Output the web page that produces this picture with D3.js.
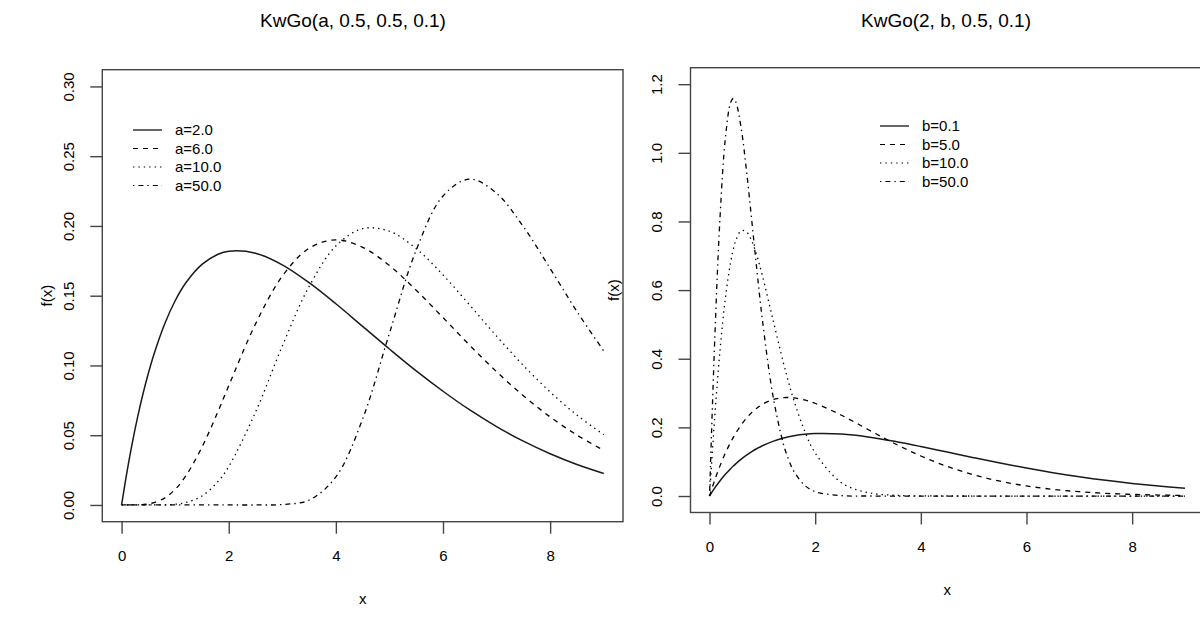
<!DOCTYPE html>
<html>
<head>
<meta charset="utf-8">
<script src="https://cdn.jsdelivr.net/npm/d3@7"></script>
<style>
  body { margin: 0; background: #fff; }
  svg { display: block; }
  text { font-family: "Liberation Sans", Arial, Helvetica, sans-serif; fill: #000; }
</style>
</head>
<body>
<svg width="1200" height="617"></svg>
<script>
// values
var xLeft = [0, 0.1, 0.2, 0.3, 0.4, 0.5, 0.6, 0.8, 1.0, 1.2, 1.5, 1.8, 2.0, 2.5, 3.0, 3.5, 4.0, 4.5, 5.0, 5.5, 6.0, 6.5, 7.0, 7.5, 8.0, 8.5, 9.0];
var fA2  = [0, 0.0236, 0.0445, 0.0631, 0.0797, 0.0944, 0.1075, 0.1294, 0.1464, 0.1593, 0.1725, 0.1797, 0.1819, 0.1805, 0.1721, 0.1593, 0.1442, 0.1280, 0.1118, 0.0961, 0.0815, 0.0681, 0.0562, 0.0457, 0.0367, 0.0290, 0.0226];
var fA6  = [0, 0, 0, 0.0001, 0.0003, 0.0007, 0.0016, 0.0049, 0.0112, 0.0209, 0.0414, 0.0670, 0.0854, 0.1297, 0.1640, 0.1840, 0.1900, 0.1847, 0.1716, 0.1539, 0.1343, 0.1144, 0.0955, 0.0783, 0.0631, 0.0501, 0.0391];
var fA10 = [0, 0, 0, 0, 0, 0, 0, 0.0001, 0.0005, 0.0017, 0.0064, 0.0168, 0.0275, 0.0665, 0.1139, 0.1566, 0.1856, 0.1981, 0.1962, 0.1837, 0.1649, 0.1432, 0.1210, 0.1000, 0.0810, 0.0644, 0.0504];
var fA50 = [0, 0, 0, 0, 0, 0, 0, 0, 0, 0, 0, 0, 0, 0, 0.0003, 0.0035, 0.0201, 0.0617, 0.1231, 0.1827, 0.2215, 0.2336, 0.2234, 0.1995, 0.1695, 0.1387, 0.1104];
var legendLeft = ["a=2.0", "a=6.0", "a=10.0", "a=50.0"];

var xRight = [0, 0.1, 0.2, 0.3, 0.4, 0.45, 0.5, 0.6, 0.7, 0.8, 0.9, 1.0, 1.2, 1.4, 1.5, 1.6, 1.8, 2.0, 2.5, 3.0, 3.5, 4.0, 4.5, 5.0, 5.5, 6.0, 6.5, 7.0, 7.5, 8.0, 8.5, 9.0];
var fB01 = [0, 0.0236, 0.0445, 0.0631, 0.0797, 0.0873, 0.0944, 0.1075, 0.1191, 0.1294, 0.1384, 0.1464, 0.1593, 0.1688, 0.1725, 0.1755, 0.1797, 0.1819, 0.1805, 0.1721, 0.1593, 0.1442, 0.1280, 0.1118, 0.0961, 0.0815, 0.0681, 0.0562, 0.0457, 0.0367, 0.0290, 0.0226];
var fB5  = [0, 0.0471, 0.0886, 0.1250, 0.1567, 0.1708, 0.1840, 0.2073, 0.2270, 0.2433, 0.2566, 0.2671, 0.2810, 0.2866, 0.2870, 0.2859, 0.2800, 0.2703, 0.2353, 0.1939, 0.1531, 0.1167, 0.0862, 0.0618, 0.0432, 0.0294, 0.0195, 0.0126, 0.0079, 0.0048, 0.0029, 0.0017];
var fB10 = [0, 0.2331, 0.4269, 0.5765, 0.6818, 0.7187, 0.7457, 0.7729, 0.7698, 0.7428, 0.6984, 0.6424, 0.5142, 0.3871, 0.3295, 0.2771, 0.1900, 0.1254, 0.0384, 0.0099, 0.0022, 0.0004, 0.0001, 0, 0, 0, 0, 0, 0, 0, 0, 0];
var fB50 = [0, 0.4607, 0.8150, 1.0425, 1.1467, 1.1582, 1.1470, 1.0712, 0.9478, 0.8020, 0.6532, 0.5146, 0.2929, 0.1508, 0.1048, 0.0713, 0.0313, 0.0128, 0.0011, 0.0001, 0, 0, 0, 0, 0, 0, 0, 0, 0, 0, 0, 0];
var legendRight = ["b=0.1", "b=5.0", "b=10.0", "b=50.0"];

var xTicks = [0, 2, 4, 6, 8];
var yTicksLeft = [0, 0.05, 0.10, 0.15, 0.20, 0.25, 0.30];
var yTicksRight = [0, 0.2, 0.4, 0.6, 0.8, 1.0, 1.2];

// R-ish line types: solid, dashed, dotted, dotdash
var dashes = [null, "5,5", "1.4,4", "1.4,4,5,4"];

var svg = d3.select("svg");

function panel(p) {
    var g = svg.append("g");
    var rx = p.xlim[1] - p.xlim[0], ry = p.ylim[1] - p.ylim[0];
    // R pads the data range by 4% on each side
    var x = d3.scaleLinear().domain([p.xlim[0] - 0.04 * rx, p.xlim[1] + 0.04 * rx]).range([p.left, p.right]);
    var y = d3.scaleLinear().domain([p.ylim[0] - 0.04 * ry, p.ylim[1] + 0.04 * ry]).range([p.bottom, p.top]);

    var line = d3.line()
        .x(function (d, i) { return x(p.xs[i]); })
        .y(function (d) { return y(d); })
        .curve(d3.curveCatmullRom.alpha(0.5));

    p.series.forEach(function (s, i) {
        g.append("path")
            .attr("d", line(s))
            .attr("fill", "none")
            .attr("stroke", i == 0 ? "#1a1a1a" : "#000")
            .attr("stroke-width", i == 0 ? 1.5 : 1.3)
            .attr("stroke-dasharray", dashes[i]);
    });

    // box
    g.append("rect")
        .attr("x", p.left).attr("y", p.top)
        .attr("width", p.right - p.left).attr("height", p.bottom - p.top)
        .attr("fill", "none").attr("stroke", "#444").attr("stroke-width", 1.4);

    var xa = g.append("g")
        .attr("transform", "translate(0," + p.bottom + ")")
        .call(d3.axisBottom(x).tickValues(xTicks).tickSize(12).tickPadding(17).tickFormat(d3.format("d")));
    var ya = g.append("g")
        .attr("transform", "translate(" + p.left + ",0)")
        .call(d3.axisLeft(y).tickValues(p.yTicks).tickSize(12).tickFormat(d3.format(p.yFmt)));
    [xa, ya].forEach(function (a) {
        a.select(".domain").remove();
        a.selectAll("line").attr("stroke", "#444").attr("stroke-width", 1.4);
        a.selectAll("text").style("font-size", "15px")
            .style("font-family", '"Liberation Sans", Arial, sans-serif');
    });
    // y tick labels run along the axis, like R's default
    ya.selectAll("text")
        .attr("x", 0).attr("dy", "0.35em")
        .attr("text-anchor", "middle")
        .attr("transform", "translate(-34,0) rotate(-90)");

    g.append("text")
        .attr("x", p.titleX).attr("y", 20).attr("dy", "0.35em")
        .attr("text-anchor", "middle").style("font-size", "19px")
        .text(p.title);
    g.append("text")
        .attr("x", (p.left + p.right) / 2).attr("y", p.bottom + 77).attr("dy", "0.35em")
        .attr("text-anchor", "middle").style("font-size", "15px")
        .text("x");
    g.append("text")
        .attr("transform", "translate(" + p.ylabX + "," + ((p.top + p.bottom) / 2) + ") rotate(-90)")
        .attr("dy", "0.35em")
        .attr("text-anchor", "middle").style("font-size", "15px")
        .text("f(x)");

    // legend, no frame
    var lg = g.append("g");
    p.legend.forEach(function (name, i) {
        var yy = p.legY + i * 18.5;
        lg.append("line")
            .attr("x1", p.legX).attr("x2", p.legX + 29)
            .attr("y1", yy).attr("y2", yy)
            .attr("stroke", "#000").attr("stroke-width", 1.2)
            .attr("stroke-dasharray", dashes[i]);
        lg.append("text")
            .attr("x", p.legX + 42).attr("y", yy).attr("dy", "0.35em")
            .style("font-size", "15px")
            .text(name);
    });
}

panel({
    left: 102.3, right: 623, top: 69.7, bottom: 521.7,
    xlim: [0, 9], ylim: [0, 0.3],
    xs: xLeft, series: [fA2, fA6, fA10, fA50],
    yTicks: yTicksLeft, yFmt: ".2f",
    title: "KwGo(a, 0.5, 0.5, 0.1)", titleX: 353,
    ylabX: 47,
    legend: legendLeft, legX: 133, legY: 130
});

panel({
    left: 690.5, right: 1204, top: 67.7, bottom: 512.5,
    xlim: [0, 9], ylim: [0, 1.2],
    xs: xRight, series: [fB01, fB5, fB10, fB50],
    yTicks: yTicksRight, yFmt: ".1f",
    title: "KwGo(2, b, 0.5, 0.1)", titleX: 946,
    ylabX: 614,
    legend: legendRight, legX: 880, legY: 126
});
</script>
</body>
</html>
